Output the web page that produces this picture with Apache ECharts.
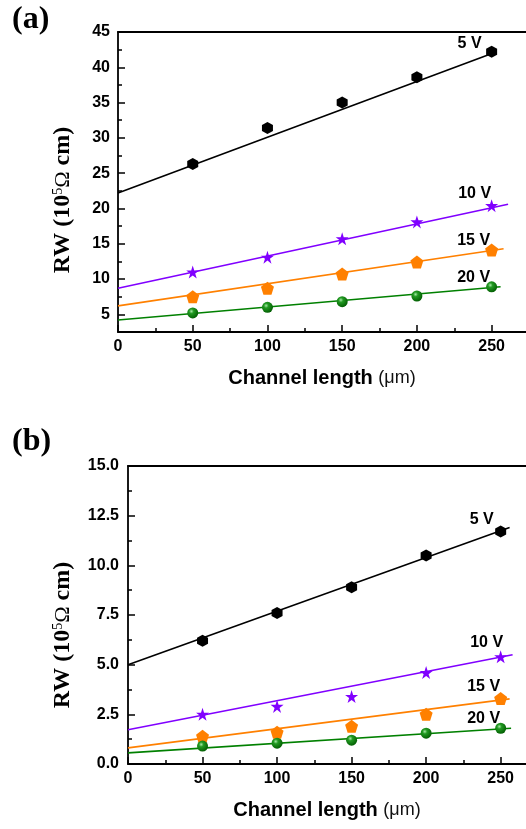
<!DOCTYPE html>
<html><head><meta charset="utf-8">
<script src="https://cdn.jsdelivr.net/npm/echarts@6/dist/echarts.min.js"></script>
<style>html,body{margin:0;padding:0;background:#fff}#c{width:526px;height:829px}</style>
</head><body><div id="c"></div>
<script>
// ---- data ----
const channelLengths = [50, 100, 150, 200, 250];
const voltageLabels = ['5 V', '10 V', '15 V', '20 V'];

// panel (a)
const a5V  = [26.3, 31.4, 35.0, 38.6, 42.2];
const a10V = [11.0, 13.1, 15.7, 18.1, 20.4];
const a15V = [7.5, 8.7, 10.7, 12.4, 14.1];
const a20V = [5.2, 6.0, 6.8, 7.6, 8.9];
const aFit5  = [[0, 22.2], [252, 42.1]];
const aFit10 = [[0, 8.7], [261, 20.6]];
const aFit15 = [[0, 6.2], [258, 14.3]];
const aFit20 = [[0, 4.2], [256, 8.9]];

// panel (b)
const b5V  = [6.2, 7.6, 8.9, 10.5, 11.7];
const b10V = [2.5, 2.9, 3.4, 4.6, 5.4];
const b15V = [1.4, 1.6, 1.9, 2.5, 3.3];
const b20V = [0.9, 1.05, 1.2, 1.55, 1.8];
const bFit5  = [[0, 5.0], [256, 11.9]];
const bFit10 = [[0, 1.72], [258, 5.5]];
const bFit15 = [[0, 0.81], [256, 3.28]];
const bFit20 = [[0, 0.56], [257, 1.8]];

// ticks
const xMajorTicks = [0, 50, 100, 150, 200, 250];
const xMinorTicks = [25, 75, 125, 175, 225];
const yMajorTicksA = [5, 10, 15, 20, 25, 30, 35, 40, 45];
const yMinorTicksA = [7.5, 12.5, 17.5, 22.5, 27.5, 32.5, 37.5, 42.5];
const yMajorTicksB = [0, 2.5, 5, 7.5, 10, 12.5, 15];
const yMinorTicksB = [1.25, 3.75, 6.25, 8.75, 11.25, 13.75];

// ---- styles ----
const BLACK = '#000';
const colors = ['#000000', '#8000FF', '#FF8000', '#008000'];
const hexPath = 'path://M0,-1L0.866,-0.5L0.866,0.5L0,1L-0.866,0.5L-0.866,-0.5Z';
const starPath = 'path://M0,-1L0.2245,-0.309L0.9511,-0.309L0.3633,0.118L0.5878,0.809L0,0.382L-0.5878,0.809L-0.3633,0.118L-0.9511,-0.309L-0.2245,-0.309Z';
const pentPath = 'path://M0,-1L0.9511,-0.309L0.5878,0.809L-0.5878,0.809L-0.9511,-0.309Z';
const sphere = {
  type: 'radial', x: 0.38, y: 0.35, r: 0.7,
  colorStops: [{offset: 0, color: '#a8e8a8'}, {offset: 0.3, color: '#229a22'}, {offset: 1, color: '#005a00'}]
};
const symbols = [hexPath, starPath, pentPath, 'circle'];
const symbolSizes = [[11, 12], 13, [13, 13], 11];
const fills = [colors[0], colors[1], colors[2], sphere];

const tickFont = {fontFamily: 'Liberation Sans', fontWeight: 'bold', fontSize: 16, color: BLACK};
const yName = '{t|RW (10}{s|5}{o|Ω}{t| cm)}';
const yNameRich = {
  t: {fontFamily: 'Liberation Serif', fontWeight: 'bold', fontSize: 24, color: BLACK},
  s: {fontFamily: 'Liberation Serif', fontSize: 14, verticalAlign: 'top', color: BLACK},
  o: {fontFamily: 'Liberation Serif', fontSize: 22, color: BLACK}
};
const xName = '{b|Channel length }{u|(μm)}';
const xNameRich = {
  b: {fontFamily: 'Liberation Sans', fontWeight: 'bold', fontSize: 20, color: BLACK},
  u: {fontFamily: 'Liberation Sans', fontSize: 18, color: '#111'}
};

function xAxesFor(grid, max, gap) {
  return [
    {type: 'value', gridIndex: grid, min: 0, max: max, position: 'bottom',
     axisLine: {lineStyle: {color: BLACK, width: 1.8}},
     axisTick: {inside: true, length: 7, customValues: xMajorTicks, lineStyle: {color: BLACK, width: 1.5}},
     axisLabel: Object.assign({customValues: xMajorTicks, margin: 7}, tickFont),
     splitLine: {show: false},
     name: xName, nameLocation: 'middle', nameGap: gap, nameTextStyle: {rich: xNameRich}},
    {type: 'value', gridIndex: grid, min: 0, max: max, position: 'bottom',
     axisLine: {show: false},
     axisTick: {inside: true, length: 4, customValues: xMinorTicks, lineStyle: {color: BLACK, width: 1.5}},
     axisLabel: {show: false}, splitLine: {show: false}},
    {type: 'value', gridIndex: grid, min: 0, max: max, position: 'top',
     axisLine: {lineStyle: {color: BLACK, width: 1.8}},
     axisTick: {show: false}, axisLabel: {show: false}, splitLine: {show: false}}
  ];
}
function yAxesFor(grid, min, max, major, minor, fmt, gap, pad, margin) {
  return [
    {type: 'value', gridIndex: grid, min: min, max: max, position: 'left',
     axisLine: {lineStyle: {color: BLACK, width: 1.8}},
     axisTick: {inside: true, length: 7, customValues: major, lineStyle: {color: BLACK, width: 1.5}},
     axisLabel: Object.assign({customValues: major, margin: margin, formatter: fmt}, tickFont),
     splitLine: {show: false},
     name: yName, nameLocation: 'middle', nameRotate: 90, nameGap: gap,
     nameTextStyle: {rich: yNameRich, padding: pad}},
    {type: 'value', gridIndex: grid, min: min, max: max, position: 'left',
     axisLine: {show: false},
     axisTick: {inside: true, length: 4, customValues: minor, lineStyle: {color: BLACK, width: 1.5}},
     axisLabel: {show: false}, splitLine: {show: false}}
  ];
}

const labelOffsetsA = [[-22, -8], [-17, -12], [-18, -10], [-18, -9]];
const labelOffsetsB = [[-19, -12], [-14, -14], [-17, -12], [-17, -10]];

function panelSeries(xi, yi, values, fits, offsets) {
  const out = [];
  values.forEach(function (vals, k) {
    out.push({
      type: 'line', xAxisIndex: xi, yAxisIndex: yi, data: fits[k],
      showSymbol: false, symbol: 'none', silent: true, animation: false,
      lineStyle: {color: colors[k], width: 1.6}, z: 2
    });
    out.push({
      type: 'scatter', xAxisIndex: xi, yAxisIndex: yi, animation: false,
      symbol: symbols[k], symbolSize: symbolSizes[k],
      itemStyle: {color: fills[k], opacity: 1},
      z: 3,
      data: channelLengths.map(function (x, i) {
        const item = {value: [x, vals[i]]};
        if (i === channelLengths.length - 1) {
          item.label = {show: true, formatter: voltageLabels[k], position: 'inside',
            offset: offsets[k], fontFamily: 'Liberation Sans', fontWeight: 'bold', fontSize: 16, color: BLACK};
        }
        return item;
      })
    });
  });
  return out;
}

const chart = echarts.init(document.getElementById('c'), null, {renderer: 'canvas'});
const option = {
  animation: false,
  backgroundColor: '#fff',
  grid: [
    {left: 118, top: 32, right: 0, height: 300},
    {left: 128, top: 466, right: 0, height: 298}
  ],
  xAxis: xAxesFor(0, 273, 36).concat(xAxesFor(1, 267, 36)),
  yAxis: yAxesFor(0, 2.5, 45, yMajorTicksA, yMinorTicksA, function (v) { return String(v); }, 43, [0, 36, 0, 0], 8)
    .concat(yAxesFor(1, 0, 15, yMajorTicksB, yMinorTicksB, function (v) { return v.toFixed(1); }, 53, [0, 40, 0, 0], 9)),
  series: panelSeries(0, 0, [a5V, a10V, a15V, a20V], [aFit5, aFit10, aFit15, aFit20], labelOffsetsA)
    .concat(panelSeries(3, 2, [b5V, b10V, b15V, b20V], [bFit5, bFit10, bFit15, bFit20], labelOffsetsB)),
  graphic: [
    {type: 'text', left: 12, top: 4, style: {text: '(a)', font: 'bold 32px "Liberation Serif"', fill: BLACK}},
    {type: 'text', left: 12, top: 426, style: {text: '(b)', font: 'bold 32px "Liberation Serif"', fill: BLACK}}
  ]
};
chart.setOption(option);
</script>
</body></html>
